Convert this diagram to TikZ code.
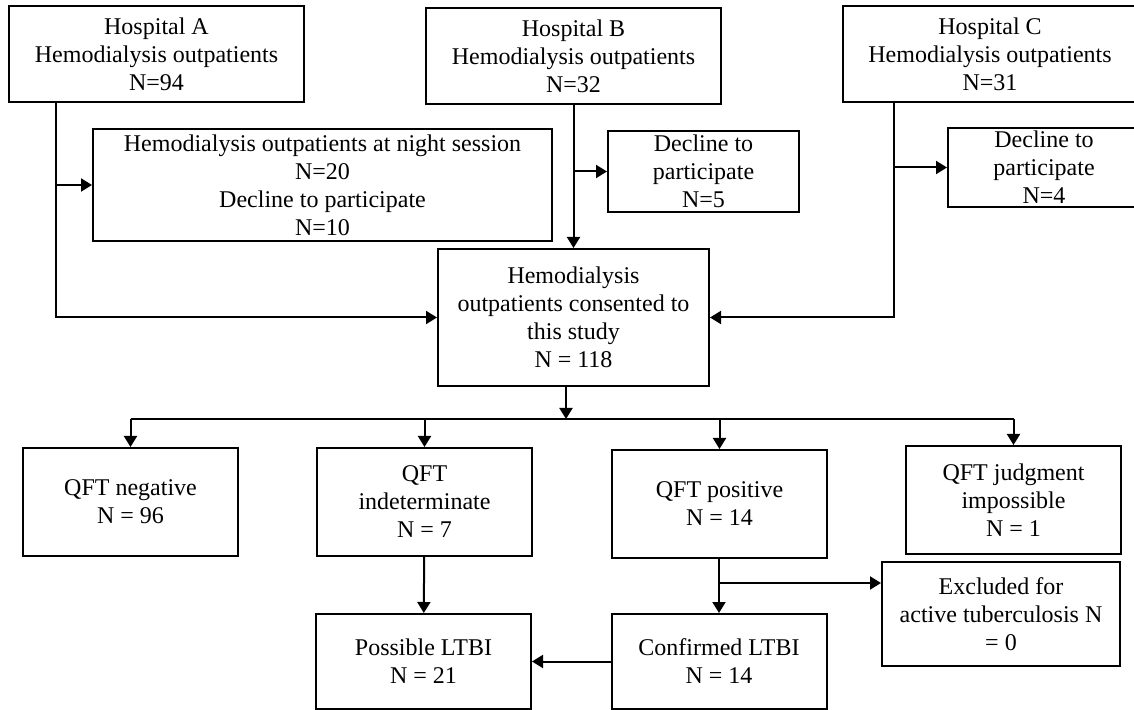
\documentclass[tikz,border=0pt]{standalone}
\usepackage{fontspec}
\setmainfont{Liberation Serif}
\usepackage{tikz}
\usetikzlibrary{arrows.meta, positioning, calc}
\tikzset{
  box/.style={draw=black, line width=1pt, align=center, fill=white,
              font=\fontsize{12pt}{14pt}\selectfont,
              inner xsep=2pt, inner ysep=0pt},
  hospbox/.style={box, minimum width=147.5pt, minimum height=48pt},
  qftbox/.style={box, minimum width=107.5pt, minimum height=54pt},
  ltbibox/.style={box, minimum width=107.5pt, minimum height=47.5pt},
  flow/.style={-{Triangle[width=6.5pt, length=5.5pt]}, line width=1pt, draw=black},
  link/.style={line width=1pt, draw=black},
}

\begin{document}
\begin{tikzpicture}[x=0.5pt, y=-0.5pt]
  \useasboundingbox (0,0) rectangle (1134,710);

  % hospitals
  \node[hospbox] (hospa) at (156.5,54.5) {Hospital A\\ Hemodialysis outpatients\\ N=94};
  \node[hospbox] (hospb) at (573.5,56) {Hospital B\\ Hemodialysis outpatients\\ N=32};
  \node[hospbox] (hospc) at (990,54) {Hospital C\\ Hemodialysis outpatients\\ N=31};

  % exclusions before consent
  \node[box, minimum width=229.5pt, minimum height=56pt] (night) at (322.5,185)
    {Hemodialysis outpatients at night session\\ N=20\\ Decline to participate\\ N=10};
  \node[box, minimum width=95.5pt, minimum height=40.5pt] (declb) at (703.5,171.5)
    {Decline to\\ participate\\ N=5};
  \node[box, minimum width=96pt, minimum height=39.5pt] (declc) at (1044,167.5)
    {Decline to\\ participate\\ N=4};

  \node[box, minimum width=135.5pt, minimum height=68.5pt] (cons) at (573.5,317.5)
    {Hemodialysis\\ outpatients consented to\\ this study\\ N = 118};

  % QFT results
  \node[qftbox] (neg) at (130.5,502) {QFT negative\\ N = 96};
  \node[qftbox] (indet) at (424.5,502) {QFT\\ indeterminate\\ N = 7};
  \node[qftbox] (pos) at (719.5,504) {QFT positive\\ N = 14};
  \node[qftbox] (judg) at (1013.5,500) {QFT judgment\\ impossible\\ N = 1};
  \node[box, minimum width=119pt, minimum height=52pt] (excl) at (1001,614)
    {Excluded for\\ active tuberculosis N\\ = 0};

  \node[ltbibox] (poss) at (423.5,661.5) {Possible LTBI\\ N = 21};
  \node[ltbibox] (conf) at (719,661.5) {Confirmed LTBI\\ N = 14};

  % turning points
  \coordinate (aturn) at (56,317.5);
  \coordinate (cturn) at (894,317.5);
  \coordinate (split) at (566,419);
  \coordinate (xsplit) at (719,583);

  \draw[flow] (hospa.south -| aturn) |- (cons.west);
  \draw[flow] (aturn |- night.west) -- (night.west);
  \draw[flow] (hospb) -- (cons);
  \draw[flow] (hospb.south |- declb.west) -- (declb.west);
  \draw[flow] (hospc.south -| cturn) |- (cons.east);
  \draw[flow] (cturn |- declc.west) -- (declc.west);

  \draw[flow] (cons.south -| split) -- (split);
  \draw[link] (neg.north |- split) -- (judg.north |- split);
  \foreach \n in {neg, indet, pos, judg}
    \draw[flow] (\n.north |- split) -- (\n.north);

  \draw[flow] (indet) -- (poss);
  \draw[flow] (pos.south -| xsplit) -- (conf.north -| xsplit);
  \draw[flow] (xsplit) -- (excl.west |- xsplit);
  \draw[flow] (conf) -- (poss);
\end{tikzpicture}
\end{document}
